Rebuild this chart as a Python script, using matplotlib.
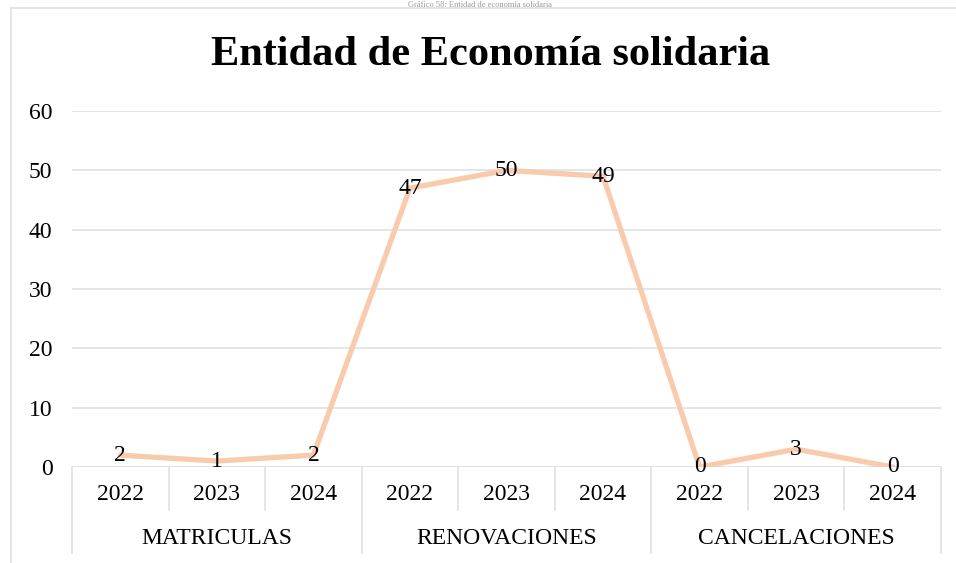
import matplotlib.pyplot as plt
from matplotlib.lines import Line2D

plt.rcParams["font.family"] = ["Liberation Serif", "DejaVu Serif"]

groups = ["MATRICULAS", "RENOVACIONES", "CANCELACIONES"]
years = ["2022", "2023", "2024"]
values = [2, 1, 2, 47, 50, 49, 0, 3, 0]

W, H = 956, 563
fig = plt.figure(figsize=(W / 100, H / 100), dpi=100)
ax = fig.add_axes([72 / W, (H - 467) / H, (941 - 72) / W, (467 - 111) / H])

grid_col = "#dde1e8"
fs = 17
x = list(range(len(values)))
ax.plot(x, values, color="#f8cbad", lw=3.8, solid_capstyle="round", zorder=3)
for xi, v in zip(x, values):
    ax.text(xi, v, str(v), ha="center", va="center", fontsize=fs, color="black", zorder=4)

ax.set_xlim(-0.5, len(values) - 0.5)
ax.set_ylim(0, 60)
ax.set_yticks(range(0, 61, 10))
ax.tick_params(axis="y", length=0, labelsize=fs, pad=14)
ax.set_xticks([])
ax.grid(axis="y", color=grid_col, lw=1.2)
ax.set_axisbelow(True)
for s in ax.spines.values():
    s.set_visible(False)
ax.axhline(0, color=grid_col, lw=1.2, zorder=1)

# two-level category axis
tr = ax.get_xaxis_transform()
ax_h = 467 - 111
y_inner = -43 / ax_h
y_outer = -86 / ax_h
for i in range(len(values) + 1):
    b = i - 0.5
    bottom = y_outer if i % 3 == 0 else y_inner
    ax.plot([b, b], [0, bottom], transform=tr, color=grid_col, lw=1.2, clip_on=False)
for i in range(len(values)):
    ax.text(i, -28 / ax_h, years[i % 3], transform=tr, ha="center", va="center", fontsize=fs)
for g, name in enumerate(groups):
    ax.text(g * 3 + 1, -72 / ax_h, name, transform=tr, ha="center", va="center", fontsize=fs)

fig.text(491 / W, 1 - 55 / H, "Entidad de Economía solidaria", ha="center", va="center",
         fontsize=30.5, fontweight="bold")
fig.text(480 / W, 1 - 1 / H, "Gráfico 58: Entidad de economía solidaria", ha="center",
         va="top", fontsize=6, color="#9a9a9a")

# chart frame
fig.add_artist(Line2D([11 / W, 11 / W], [0, 1 - 8 / H], color=grid_col, lw=1.2))
fig.add_artist(Line2D([11 / W, 1], [1 - 8 / H, 1 - 8 / H], color=grid_col, lw=1.2))

fig.savefig("out.png", dpi=100)
